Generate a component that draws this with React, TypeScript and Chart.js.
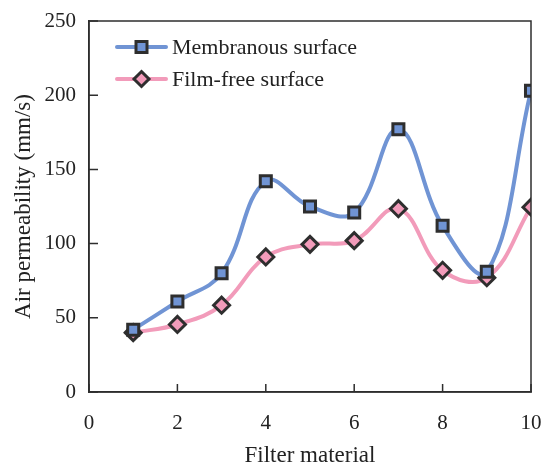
import React, { useEffect, useRef } from "react";
import { Chart, registerables } from "chart.js";

Chart.register(...registerables);

const xValues = [1, 2, 3, 4, 5, 6, 7, 8, 9, 10];
const membranous = [42, 61, 80, 142, 125, 121, 177, 112, 81, 203];
const filmFree = [40, 45.5, 58.5, 91, 99.5, 102, 123.5, 82, 77, 124.5];
const seriesNames = ["Membranous surface", "Film-free surface"];
const xTicks = [0, 2, 4, 6, 8, 10];
const yTicks = [0, 50, 100, 150, 200, 250];

const BLUE = "#7094d4";
const PINK = "#f29bba";
const DARK = "#2e2e2e";
const FONT = "'Liberation Serif', 'Times New Roman', serif";

export default function App() {
  const ref = useRef<HTMLCanvasElement | null>(null);
  useEffect(() => {
    document.body.style.margin = "0";
    const canvas = ref.current!;
    const framePlugin = {
      id: "frame",
      afterDraw(chart: any) {
        const { ctx, chartArea: a } = chart;
        const xs = chart.scales.x;
        const ys = chart.scales.y;
        ctx.save();
        ctx.strokeStyle = DARK;
        ctx.lineWidth = 1.5;
        ctx.strokeRect(a.left, a.top, a.right - a.left, a.bottom - a.top);
        ctx.beginPath();
        xTicks.forEach((v) => {
          const px = xs.getPixelForValue(v);
          ctx.moveTo(px, a.bottom);
          ctx.lineTo(px, a.bottom - 8);
        });
        yTicks.forEach((v) => {
          const py = ys.getPixelForValue(v);
          ctx.moveTo(a.left, py);
          ctx.lineTo(a.left + 9, py);
        });
        ctx.stroke();
        // legend
        const items = [
          { name: seriesNames[0], color: BLUE, style: "rect" },
          { name: seriesNames[1], color: PINK, style: "rectRot" },
        ];
        items.forEach((it, i) => {
          const y = a.top + 26 + i * 32;
          const x0 = a.left + 28;
          const x1 = a.left + 77;
          ctx.strokeStyle = it.color;
          ctx.lineWidth = 4;
          ctx.lineCap = "round";
          ctx.beginPath();
          ctx.moveTo(x0, y);
          ctx.lineTo(x1, y);
          ctx.stroke();
          ctx.fillStyle = it.color;
          ctx.strokeStyle = DARK;
          ctx.lineWidth = 3;
          ctx.lineCap = "butt";
          ctx.beginPath();
          const cx = (x0 + x1) / 2;
          if (it.style === "rect") {
            ctx.rect(cx - 5.5, y - 5.5, 11, 11);
          } else {
            ctx.moveTo(cx, y - 7.5);
            ctx.lineTo(cx + 7.5, y);
            ctx.lineTo(cx, y + 7.5);
            ctx.lineTo(cx - 7.5, y);
            ctx.closePath();
          }
          ctx.fill();
          ctx.stroke();
          ctx.fillStyle = "#222";
          ctx.font = `22px ${FONT}`;
          ctx.textBaseline = "middle";
          ctx.textAlign = "left";
          ctx.fillText(it.name, x1 + 6, y + 1);
        });
        ctx.restore();
      },
    };
    const chart = new Chart(canvas, {
      type: "line",
      data: {
        datasets: [
          {
            label: seriesNames[0],
            data: xValues.map((x, i) => ({ x, y: membranous[i] })),
            borderColor: BLUE,
            backgroundColor: BLUE,
            borderWidth: 4,
            tension: 0.4,
            pointStyle: "rect",
            pointRadius: 7.8,
            pointBorderWidth: 3,
            pointBorderColor: DARK,
            pointBackgroundColor: BLUE,
          },
          {
            label: seriesNames[1],
            data: xValues.map((x, i) => ({ x, y: filmFree[i] })),
            borderColor: PINK,
            backgroundColor: PINK,
            borderWidth: 4,
            tension: 0.4,
            pointStyle: "rectRot",
            pointRadius: 8,
            pointBorderWidth: 3,
            pointBorderColor: DARK,
            pointBackgroundColor: PINK,
          },
        ],
      },
      options: {
        animation: false,
        responsive: false,
        layout: { padding: { top: 21, right: 11, left: 0, bottom: 0 } },
        plugins: { legend: { display: false }, tooltip: { enabled: false } },
        scales: {
          x: {
            type: "linear",
            min: 0,
            max: 10,
            afterFit: (s: any) => {
              s.height = 70;
              s.paddingLeft = 0;
              s.paddingRight = 0;
            },
            afterBuildTicks: (s: any) => {
              s.ticks = xTicks.map((v) => ({ value: v }));
            },
            grid: { drawOnChartArea: false, drawTicks: false },
            border: { color: DARK, width: 1.5 },
            ticks: {
              color: "#222",
              padding: 19,
              font: { family: FONT, size: 21 },
            },
            title: {
              display: true,
              text: "Filter material",
              color: "#222",
              font: { family: FONT, size: 23 },
              padding: { top: 4, bottom: -8 },
            },
          },
          y: {
            min: 0,
            max: 250,
            afterFit: (s: any) => {
              s.width = 89;
              s.paddingTop = 0;
              s.paddingBottom = 0;
            },
            afterBuildTicks: (s: any) => {
              s.ticks = yTicks.map((v) => ({ value: v }));
            },
            grid: { drawOnChartArea: false, drawTicks: false },
            border: { color: DARK, width: 1.5 },
            ticks: {
              color: "#222",
              padding: 13,
              font: { family: FONT, size: 21 },
            },
            title: {
              display: true,
              text: "Air permeability (mm/s)",
              color: "#222",
              font: { family: FONT, size: 23 },
              padding: { bottom: 0, top: 10 },
            },
          },
        },
      },
      plugins: [framePlugin],
    } as any);
    return () => chart.destroy();
  }, []);
  return (
    <div style={{ width: 542, height: 462, background: "#fff" }}>
      <canvas ref={ref} width={542} height={462} style={{ display: "block" }} />
    </div>
  );
}
